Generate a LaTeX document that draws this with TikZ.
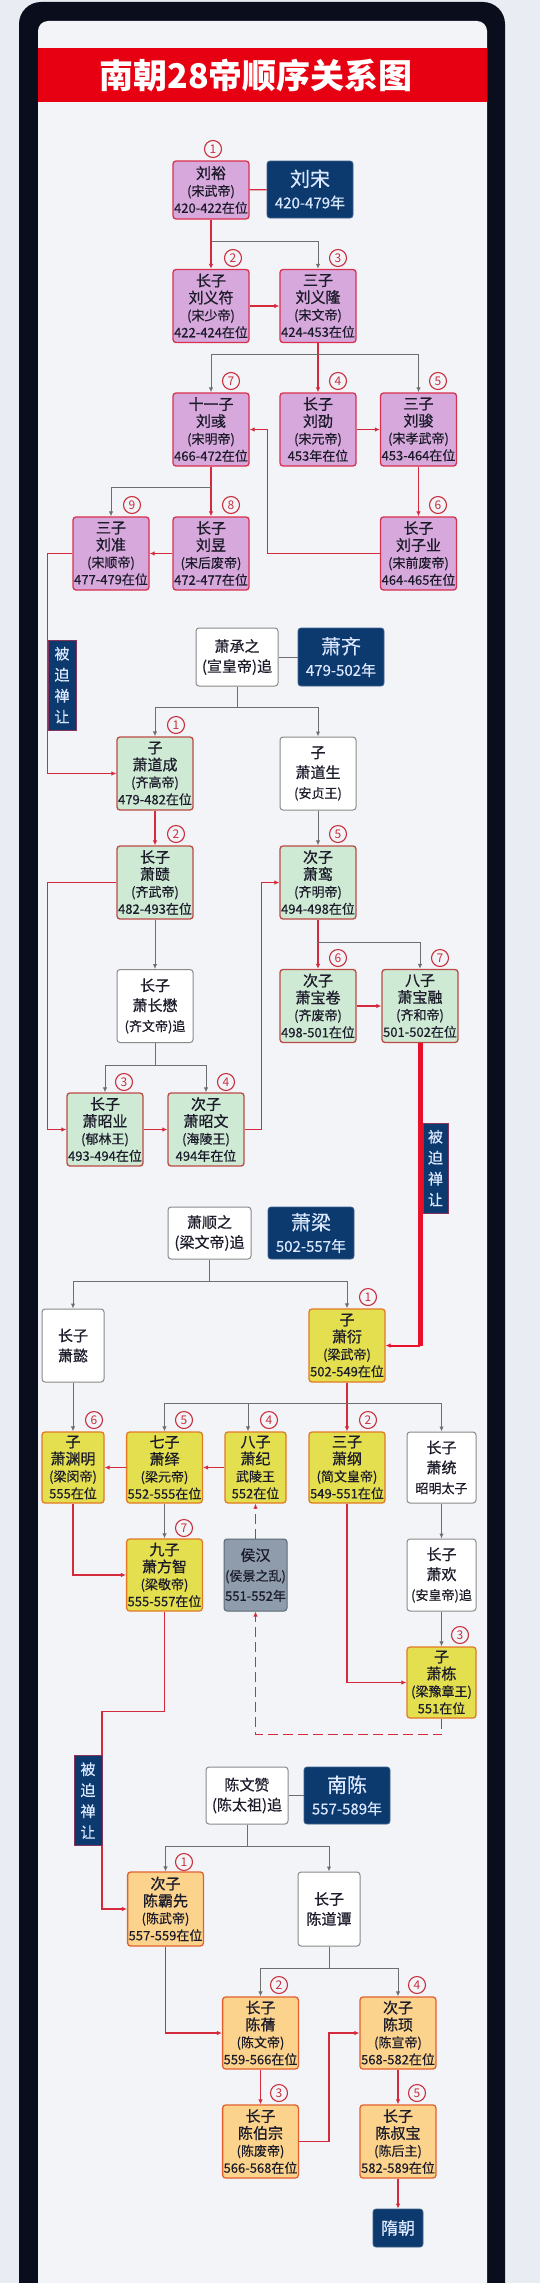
\documentclass[tikz,border=0pt]{standalone}
\usepackage{fontspec}
\setmainfont{Noto Sans CJK SC}
\newfontfamily\bxfont{Noto Sans CJK SC}[FakeBold=0.35]
\newfontfamily\nmfont{Noto Sans CJK SC}[FakeBold=0.8]
\usetikzlibrary{arrows.meta,calc}
\definecolor{bgout}{HTML}{E9ECF2}
\definecolor{framec}{HTML}{0A0E1C}
\definecolor{innerc}{HTML}{F3F4F8}
\definecolor{titlered}{HTML}{E60012}
\definecolor{navy}{HTML}{0C3A6E}
\definecolor{navytxt}{HTML}{DCE8FF}
\definecolor{rlinec}{HTML}{D42A3C}
\definecolor{glinec}{HTML}{6E6E6E}
\definecolor{songfill}{HTML}{D6A8DB}
\definecolor{songdraw}{HTML}{D8304E}
\definecolor{qifill}{HTML}{CEE9D4}
\definecolor{qidraw}{HTML}{BC4A44}
\definecolor{liangfill}{HTML}{E4DF4E}
\definecolor{liangdraw}{HTML}{E27A24}
\definecolor{chenfill}{HTML}{FCD38C}
\definecolor{chendraw}{HTML}{E2602E}
\definecolor{wdraw}{HTML}{8A8A8A}
\definecolor{hhfill}{HTML}{8E9CAB}
\definecolor{hhdraw}{HTML}{5C6773}
\definecolor{txtc}{HTML}{1B1B2A}
\definecolor{circc}{HTML}{C8303E}
\definecolor{thickred}{HTML}{E8102A}
\newcommand\lgt[1]{{\nmfont\fontsize{15}{17}\selectfont #1}}
\newcommand\hbig[1]{{\fontsize{20}{22}\selectfont #1}}
\tikzset{
  box/.style={rectangle, rounded corners=3pt, line width=1.3pt, align=center, inner sep=1pt, text=txtc, font=\bxfont\fontsize{13}{17}\selectfont, minimum width=76pt, minimum height=73pt},
  songbox/.style={box, fill=songfill, draw=songdraw},
  qibox/.style={box, fill=qifill, draw=qidraw},
  liangbox/.style={box, fill=liangfill, draw=liangdraw},
  chenbox/.style={box, fill=chenfill, draw=chendraw},
  wbox/.style={box, fill=white, draw=wdraw, line width=1pt, font=\bxfont\fontsize{13}{20}\selectfont},
  wbig/.style={wbox, font=\bxfont\fontsize{15}{20}\selectfont},
  hhbox/.style={box, fill=hhfill, draw=hhdraw, line width=1pt, font=\bxfont\fontsize{13}{20}\selectfont, minimum width=63pt, minimum height=72pt},
  hdr/.style={rectangle, rounded corners=3pt, fill=navy, draw=navy!80!white, line width=0.8pt, text=navytxt, align=center, minimum width=86pt, minimum height=57pt, inner sep=1pt, font=\bxfont\fontsize{15}{22}\selectfont},
  lab/.style={rectangle, fill=navy, draw=songdraw!60!navy, line width=0.8pt, text=navytxt, align=center, minimum width=28pt, minimum height=90pt, inner sep=0pt, font=\bxfont\fontsize{15}{21}\selectfont},
  circ/.style={circle, draw=circc, line width=1.1pt, text=circc, inner sep=0pt, minimum size=17pt, font=\fontsize{12}{12}\selectfont},
  rline/.style={draw=rlinec, line width=1.3pt},
  gline/.style={draw=glinec, line width=1pt},
  rarr/.style={rline, -{Latex[length=5pt,width=4.5pt]}},
  garr/.style={gline, -{Latex[length=5pt,width=4.5pt]}},
}
\begin{document}
\begin{tikzpicture}[x=1pt,y=-1pt]
\useasboundingbox (0,0) rectangle (540,2283);
\fill[bgout] (0,0) rectangle (540,2283);
\fill[framec, rounded corners=22pt] (19,2) rectangle (505,2340);
\fill[innerc, rounded corners=10pt] (38,21) rectangle (487,2330);
\fill[titlered] (38,48) rectangle (487,102);
\node[text=white, font=\fontsize{34}{36}\selectfont\bfseries] (title) at (256,75) {南朝28帝顺序关系图};

% ---------------- Liu Song
\node[songbox, minimum height=58pt] (liuyu) at (211,190) {\lgt{刘裕}\\(宋武帝)\\420-422在位};
\node[hdr] (hsong) at (310,189.5) {\hbig{刘宋}\\420-479年};
\node[songbox] (yifu) at (211,306) {\lgt{长子}\\\lgt{刘义符}\\(宋少帝)\\422-424在位};
\node[songbox] (yilong) at (318,306) {\lgt{三子}\\\lgt{刘义隆}\\(宋文帝)\\424-453在位};
\node[songbox] (liuyu2) at (211,429.5) {\lgt{十一子}\\\lgt{刘彧}\\(宋明帝)\\466-472在位};
\node[songbox] (shao) at (318,429.5) {\lgt{长子}\\\lgt{刘劭}\\(宋元帝)\\453年在位};
\node[songbox] (jun) at (418.5,429.5) {\lgt{三子}\\\lgt{刘骏}\\(宋孝武帝)\\453-464在位};
\node[songbox] (ziye) at (418.5,553.5) {\lgt{长子}\\\lgt{刘子业}\\(宋前废帝)\\464-465在位};
\node[songbox] (liuyu3) at (211,553.5) {\lgt{长子}\\\lgt{刘昱}\\(宋后废帝)\\472-477在位};
\node[songbox] (zhun) at (111,553.5) {\lgt{三子}\\\lgt{刘准}\\(宋顺帝)\\477-479在位};

\draw[rline] (liuyu) -- (hsong);
\draw[rarr] (liuyu) -- (yifu);
\draw[garr] (liuyu.south) ++(0,22) -| (yilong.north);
\draw[rarr] (yifu) -- (yilong);
\draw[rarr] (yilong) -- (shao);
\draw[garr] (yilong.south) ++(0,11) -| (liuyu2.north);
\draw[garr] (yilong.south) ++(0,11) -| (jun.north);
\draw[rarr] (shao) -- (jun);
\draw[rarr] (jun) -- (ziye);
\draw[rarr] (ziye.west) -| ($(liuyu2.east)+(18,0)$) -- (liuyu2.east);
\draw[rarr] (liuyu2) -- (liuyu3);
\draw[garr] (liuyu2.south) ++(0,21) -| (zhun.north);
\draw[rarr] (liuyu3) -- (zhun);

% ---------------- Xiao Qi
\node[wbig, minimum width=82pt, minimum height=58pt] (chengzhi) at (237,657) {萧承之\\(宣皇帝)追};
\node[hdr, minimum height=58pt] (hqi) at (341,657) {\hbig{萧齐}\\479-502年};
\node[qibox] (daocheng) at (155,773.5) {\lgt{子}\\\lgt{萧道成}\\(齐高帝)\\479-482在位};
\node[wbox] (daosheng) at (318,773.5) {\lgt{子}\\\lgt{萧道生}\\(安贞王)};
\node[qibox] (ze) at (155,882.5) {\lgt{长子}\\\lgt{萧赜}\\(齐武帝)\\482-493在位};
\node[qibox] (luan) at (318,882.5) {\lgt{次子}\\\lgt{萧鸾}\\(齐明帝)\\494-498在位};
\node[wbox] (changmao) at (155,1006) {\lgt{长子}\\\lgt{萧长懋}\\(齐文帝)追};
\node[qibox] (zhaoye) at (105,1129.5) {\lgt{长子}\\\lgt{萧昭业}\\(郁林王)\\493-494在位};
\node[qibox] (zhaowen) at (206,1129.5) {\lgt{次子}\\\lgt{萧昭文}\\(海陵王)\\494年在位};
\node[qibox] (baojuan) at (318,1006) {\lgt{次子}\\\lgt{萧宝卷}\\(齐废帝)\\498-501在位};
\node[qibox] (baorong) at (420,1006) {\lgt{八子}\\\lgt{萧宝融}\\(齐和帝)\\501-502在位};

\draw[rarr] (zhun.west) -- ++(-25,0) |- (daocheng.west);
\draw[gline] (chengzhi) -- (hqi);
\draw[garr] (chengzhi.south) -- ++(0,21) -| (daocheng.north);
\draw[garr] (chengzhi.south) ++(0,21) -| (daosheng.north);
\draw[rarr] (daocheng) -- (ze);
\draw[garr] (daosheng) -- (luan);
\draw[garr] (ze) -- (changmao);
\draw[rarr] (ze.west) -- ++(-69,0) |- (zhaoye.west);
\draw[garr] (changmao.south) -- ++(0,22) -| (zhaoye.north);
\draw[garr] (changmao.south) ++(0,22) -| (zhaowen.north);
\draw[rarr] (zhaoye) -- (zhaowen);
\draw[rarr] (zhaowen.east) -- ++(17,0) |- (luan.west);
\draw[rarr] (luan) -- (baojuan);
\draw[garr] (luan.south) ++(0,23) -| (baorong.north);
\draw[rarr] (baojuan) -- (baorong);

% ---------------- Xiao Liang
\node[wbig, minimum width=83pt, minimum height=52pt] (shunzhi) at (209.5,1233) {萧顺之\\(梁文帝)追};
\node[hdr, minimum height=52pt] (hliang) at (311,1233) {\hbig{萧梁}\\502-557年};
\node[wbox, minimum width=62pt] (yi) at (73,1345.5) {\lgt{长子}\\\lgt{萧懿}};
\node[liangbox] (xiaoyan) at (347,1345.5) {\lgt{子}\\\lgt{萧衍}\\(梁武帝)\\502-549在位};
\node[liangbox, minimum width=62pt, minimum height=71pt] (yuanming) at (73,1467.5) {\lgt{子}\\\lgt{萧渊明}\\(梁闵帝)\\555在位};
\node[liangbox, minimum width=75pt, minimum height=71pt] (yi2) at (164.5,1467.5) {\lgt{七子}\\\lgt{萧绎}\\(梁元帝)\\552-555在位};
\node[liangbox, minimum width=61pt, minimum height=71pt] (ji) at (255.5,1467.5) {\lgt{八子}\\\lgt{萧纪}\\武陵王\\552在位};
\node[liangbox, minimum height=71pt] (gang) at (347,1467.5) {\lgt{三子}\\\lgt{萧纲}\\(简文皇帝)\\549-551在位};
\node[wbox, minimum width=69pt, minimum height=71pt] (tong) at (441.5,1467.5) {\lgt{长子}\\\lgt{萧统}\\昭明太子};
\node[liangbox, minimum width=75pt, minimum height=72pt] (fangzhi) at (164.5,1575) {\lgt{九子}\\\lgt{萧方智}\\(梁敬帝)\\555-557在位};
\node[hhbox] (houhan) at (255.5,1575) {\lgt{侯汉}\\(侯景之乱)\\551-552年};
\node[wbox, minimum width=69pt, minimum height=72pt] (huan) at (441.5,1575) {\lgt{长子}\\\lgt{萧欢}\\(安皇帝)追};
\node[liangbox, minimum width=69pt, minimum height=71pt] (dong) at (441.5,1682.5) {\lgt{子}\\\lgt{萧栋}\\(梁豫章王)\\551在位};

\draw[draw=thickred, line width=5pt] (baorong.south) -- (baorong.south |- xiaoyan.east);
\draw[rarr, draw=thickred, line width=2pt] (baorong.south |- xiaoyan.east) -- (xiaoyan.east);
\draw[garr] (shunzhi.south) -- ++(0,22) -| (yi.north);
\draw[garr] (shunzhi.south) ++(0,22) -| (xiaoyan.north);
\draw[rarr] (xiaoyan) -- (gang);
\draw[garr] (xiaoyan.south) ++(0,21) -| (yi2.north);
\draw[garr] (xiaoyan.south) ++(0,21) -| ($(ji.north)+(-7.5,0)$);
\draw[garr] (xiaoyan.south) ++(0,21) -| (tong.north);
\draw[garr] (yi) -- (yuanming);
\draw[rarr] (ji) -- (yi2);
\draw[rarr] (yi2) -- (yuanming);
\draw[rarr] (yuanming.south) |- (fangzhi.west);
\draw[garr] (yi2) -- (fangzhi);
\draw[garr] (tong) -- (huan);
\draw[garr] (huan) -- (dong);
\draw[rarr] (gang.south) |- (dong.west);
\draw[rarr, dash pattern=on 10pt off 5pt] (dong.south) -- ++(0,16) -| (houhan.south);
\draw[rarr, dash pattern=on 10pt off 5pt] (houhan) -- (ji);

% ---------------- Chen
\node[wbig, minimum width=82pt, minimum height=57pt] (wenzan) at (247,1795.5) {陈文赞\\(陈太祖)追};
\node[hdr] (hchen) at (347,1795.5) {\hbig{南陈}\\557-589年};
\node[chenbox, minimum width=75pt, minimum height=74pt] (baxian) at (165.5,1909) {\lgt{次子}\\\lgt{陈霸先}\\(陈武帝)\\557-559在位};
\node[wbox, minimum width=62pt, minimum height=74pt] (daotan) at (329,1909) {\lgt{长子}\\\lgt{陈道谭}};
\node[chenbox, minimum width=75pt, minimum height=72pt] (qian) at (260.5,2033) {\lgt{长子}\\\lgt{陈蒨}\\(陈文帝)\\559-566在位};
\node[chenbox, minimum height=72pt] (xu) at (398,2033) {\lgt{次子}\\\lgt{陈顼}\\(陈宣帝)\\568-582在位};
\node[chenbox, minimum width=75pt] (bozong) at (260.5,2141.5) {\lgt{长子}\\\lgt{陈伯宗}\\(陈废帝)\\566-568在位};
\node[chenbox] (shubao) at (398,2141.5) {\lgt{长子}\\\lgt{陈叔宝}\\(陈后主)\\582-589在位};
\node[hdr, minimum width=50pt, minimum height=38pt, font=\bxfont\fontsize{17}{20}\selectfont] (sui) at (398,2228) {隋朝};

\draw[rarr] (fangzhi.south) -- ++(0,100) -- ++(-62.5,0) |- (baxian.west);
\draw[gline] (wenzan) -- (hchen);
\draw[garr] (wenzan.south) -- ++(0,22) -| (baxian.north);
\draw[garr] (wenzan.south) ++(0,22) -| (daotan.north);
\draw[rarr] (baxian.south) |- (qian.west);
\draw[garr] (daotan.south) -- ++(0,22) -| (qian.north);
\draw[garr] (daotan.south) ++(0,22) -| (xu.north);
\draw[rarr] (qian) -- (bozong);
\draw[rarr] (bozong.east) -- ++(30,0) |- (xu.west);
\draw[rarr] (xu) -- (shubao);
\draw[rarr] (shubao) -- (sui);

% ---------------- labels
\node[lab] (lab1) at (62,685) {被\\迫\\禅\\让};
\node[lab, minimum width=25pt] (lab2) at (435.5,1168) {被\\迫\\禅\\让};
\node[lab] (lab3) at (88,1800.5) {被\\迫\\禅\\让};

% ---------------- order circles
\node[circ] (s1) at (213,149) {1};
\node[circ] (s2) at (233,258) {2};
\node[circ] (s3) at (338,258) {3};
\node[circ] (s7) at (231,381) {7};
\node[circ] (s4) at (338,381) {4};
\node[circ] (s5) at (438,381) {5};
\node[circ] (s8) at (231,505) {8};
\node[circ] (s9) at (132,505) {9};
\node[circ] (s6) at (438,505) {6};
\node[circ] (q1) at (176,725) {1};
\node[circ] (q2) at (176,834) {2};
\node[circ] (q5) at (338,834) {5};
\node[circ] (q6) at (338,958) {6};
\node[circ] (q7) at (440,958) {7};
\node[circ] (q3) at (124,1082) {3};
\node[circ] (q4) at (226,1082) {4};
\node[circ] (l1) at (368,1297) {1};
\node[circ] (l6) at (94,1420) {6};
\node[circ] (l5) at (184,1420) {5};
\node[circ] (l4) at (269,1420) {4};
\node[circ] (l2) at (368,1420) {2};
\node[circ] (l7) at (184,1528) {7};
\node[circ] (l3) at (460,1635) {3};
\node[circ] (c1) at (184,1862) {1};
\node[circ] (c2) at (279,1985) {2};
\node[circ] (c4) at (417,1985) {4};
\node[circ] (c3) at (279,2093) {3};
\node[circ] (c5) at (417,2093) {5};
\end{tikzpicture}
\end{document}
